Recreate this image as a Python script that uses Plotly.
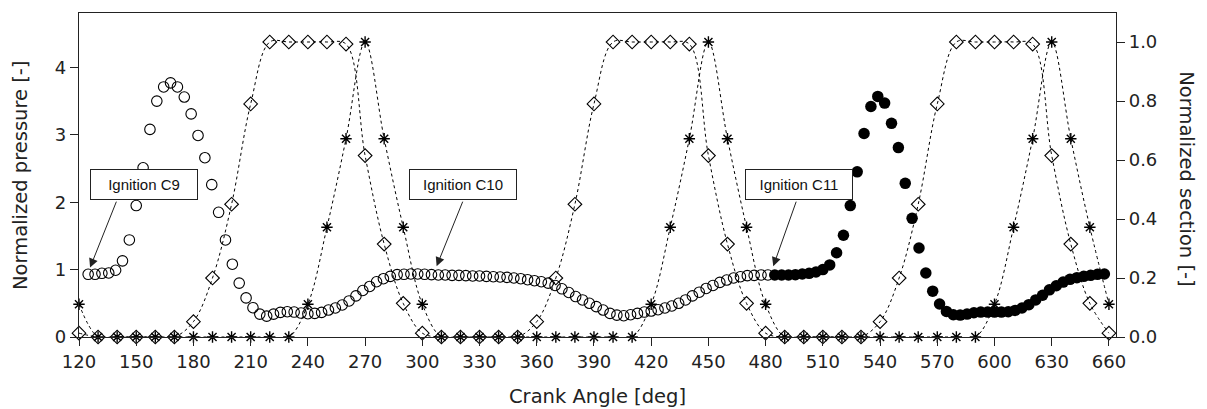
import numpy as np
import plotly.graph_objects as go

# ---------------- data ----------------
# crank angle sampling of the pressure trace (deg)
crank_open = np.round(124.8 + 3.6 * np.arange(100), 1)
crank_filled = np.round(484.8 + 3.6 * np.arange(49), 1)

pressure_open = [
    0.93, 0.93, 0.945, 0.95, 0.99, 1.13, 1.44, 1.95, 2.51, 3.08,
    3.50, 3.71, 3.77, 3.71, 3.56, 3.31, 2.99, 2.66, 2.26, 1.85,
    1.44, 1.08, 0.80, 0.58, 0.435, 0.34, 0.31, 0.34, 0.365, 0.375,
    0.37, 0.355, 0.345, 0.35, 0.365, 0.40, 0.43, 0.475, 0.535, 0.61,
    0.69, 0.75, 0.82, 0.865, 0.90, 0.925, 0.93, 0.935, 0.935, 0.93,
    0.925, 0.92, 0.92, 0.915, 0.915, 0.91, 0.905, 0.905, 0.90, 0.895,
    0.89, 0.885, 0.875, 0.865, 0.85, 0.835, 0.82, 0.80, 0.765, 0.715,
    0.66, 0.60, 0.55, 0.50, 0.45, 0.40, 0.35, 0.325, 0.315, 0.33,
    0.35, 0.37, 0.385, 0.405, 0.43, 0.46, 0.50, 0.55, 0.61, 0.665,
    0.72, 0.765, 0.81, 0.845, 0.875, 0.895, 0.91, 0.915, 0.92, 0.92,
]
pressure_filled = [
    0.92, 0.92, 0.92, 0.925, 0.935, 0.945, 0.965, 1.00, 1.07, 1.25,
    1.51, 1.95, 2.45, 3.02, 3.42, 3.57, 3.47, 3.17, 2.81, 2.28,
    1.76, 1.32, 0.95, 0.68, 0.49, 0.38, 0.33, 0.325, 0.34, 0.36,
    0.37, 0.37, 0.37, 0.37, 0.375, 0.395, 0.43, 0.48, 0.55, 0.62,
    0.70, 0.76, 0.815, 0.855, 0.88, 0.90, 0.915, 0.93, 0.935,
]

valve_angle = list(range(120, 661, 10))
section_diamond = [
    0.013, 0, 0, 0, 0, 0, 0.052, 0.20, 0.45, 0.79,
    1.0, 1.0, 1.0, 1.0, 0.993, 0.615, 0.315, 0.114, 0.013,
    0, 0, 0, 0, 0, 0.052, 0.20, 0.45, 0.79,
    1.0, 1.0, 1.0, 1.0, 0.993, 0.615, 0.315, 0.114, 0.013,
    0, 0, 0, 0, 0, 0.052, 0.20, 0.45, 0.79,
    1.0, 1.0, 1.0, 1.0, 0.993, 0.615, 0.315, 0.114, 0.013,
]
section_star = [
    0.111, 0, 0, 0, 0, 0, 0, 0, 0, 0, 0, 0,
    0.111, 0.372, 0.672, 1.0, 0.672, 0.372, 0.111,
    0, 0, 0, 0, 0, 0, 0, 0, 0, 0, 0,
    0.111, 0.372, 0.672, 1.0, 0.672, 0.372, 0.111,
    0, 0, 0, 0, 0, 0, 0, 0, 0, 0, 0,
    0.111, 0.372, 0.672, 1.0, 0.672, 0.372, 0.111,
]

x_ticks = list(range(120, 661, 30))
y_ticks = [0, 1, 2, 3, 4]
y2_ticks = [0.0, 0.2, 0.4, 0.6, 0.8, 1.0]

labels = ["Ignition C9", "Ignition C10", "Ignition C11"]
label_x = [154.3, 321.2, 497.4]
label_y = [2.26, 2.26, 2.26]
arrow_tail_x = [139.9, 321.5, 496.3]
arrow_tail_y = [2.03, 2.03, 2.03]
arrow_tip_x = [125.8, 307.5, 484.0]
arrow_tip_y = [1.03, 1.05, 1.05]

# ---------------- figure ----------------
fig = go.Figure()

fig.add_trace(go.Scatter(
    x=valve_angle, y=section_diamond, yaxis="y2", mode="lines+markers",
    line=dict(color="black", width=1, dash="3px,3px", shape="spline"),
    marker=dict(symbol="diamond-open", size=10.5, color="black", line=dict(width=1.1)),
    cliponaxis=False, hoverinfo="skip"))
fig.add_trace(go.Scatter(
    x=valve_angle, y=section_star, yaxis="y2", mode="lines+markers",
    line=dict(color="black", width=1, dash="3px,3px", shape="spline"),
    marker=dict(symbol="asterisk-open", size=9.5, color="black", line=dict(width=1.4, color="black")),
    cliponaxis=False, hoverinfo="skip"))
fig.add_trace(go.Scatter(
    x=crank_open, y=pressure_open, mode="markers",
    marker=dict(symbol="circle-open", size=10.5, color="black", line=dict(width=1.1)),
    cliponaxis=False))
fig.add_trace(go.Scatter(
    x=crank_filled, y=pressure_filled, mode="markers",
    marker=dict(symbol="circle", size=11.5, color="black"),
    cliponaxis=False))

axis_font = dict(family="DejaVu Sans", size=18, color="#222")
common = dict(showgrid=False, zeroline=False, showline=True, linecolor="#222",
              linewidth=1.2, ticks="outside", ticklen=8, tickwidth=1,
              tickcolor="#222", tickfont=axis_font, automargin=False)

# page body has an 8px default margin: the figure is sized/offset to compensate
fig.update_layout(
    width=1199, height=401,
    margin=dict(l=71, r=91, t=5, b=72),
    paper_bgcolor="white", plot_bgcolor="white",
    showlegend=False,
    xaxis=dict(range=[120, 663.7], tickvals=x_ticks, mirror=True, **common),
    yaxis=dict(range=[0, 4.807], tickvals=y_ticks, mirror=True, **common),
    yaxis2=dict(range=[0, 1.0983], tickvals=y2_ticks, tickformat=".1f",
                overlaying="y", side="right", **common),
)

annotations = []
for t, x, y in zip(labels, label_x, label_y):
    annotations.append(dict(
        text=t, x=x, y=y, xref="x", yref="y", showarrow=False,
        xanchor="center", yanchor="middle",
        font=dict(family="Liberation Sans", size=15, color="#111"),
        bgcolor="white", bordercolor="#222", borderwidth=1, borderpad=0,
        width=106, height=29))
for tx, ty, hx, hy in zip(arrow_tail_x, arrow_tail_y, arrow_tip_x, arrow_tip_y):
    annotations.append(dict(
        text="", x=hx, y=hy, xref="x", yref="y",
        ax=tx, ay=ty, axref="x", ayref="y",
        showarrow=True, arrowhead=2, arrowsize=1.8, arrowwidth=1,
        arrowcolor="#222", standoff=0, startstandoff=0))

title_font = dict(family="DejaVu Sans", size=19.5, color="#222")
annotations.append(dict(text="Crank Angle [deg]", xref="paper", yref="paper",
                        x=0.5, y=-0.184, showarrow=False, xanchor="center",
                        yanchor="middle", font=title_font))
annotations.append(dict(text="Normalized pressure [-]", xref="paper", yref="paper",
                        x=-0.0569, y=0.5, textangle=-90, showarrow=False,
                        xanchor="center", yanchor="middle", font=title_font))
annotations.append(dict(text="Normalized section [-]", xref="paper", yref="paper",
                        x=1.0685, y=0.49, textangle=90, showarrow=False,
                        xanchor="center", yanchor="middle", font=title_font))
fig.update_layout(annotations=annotations)

fig.write_html("out.html")
